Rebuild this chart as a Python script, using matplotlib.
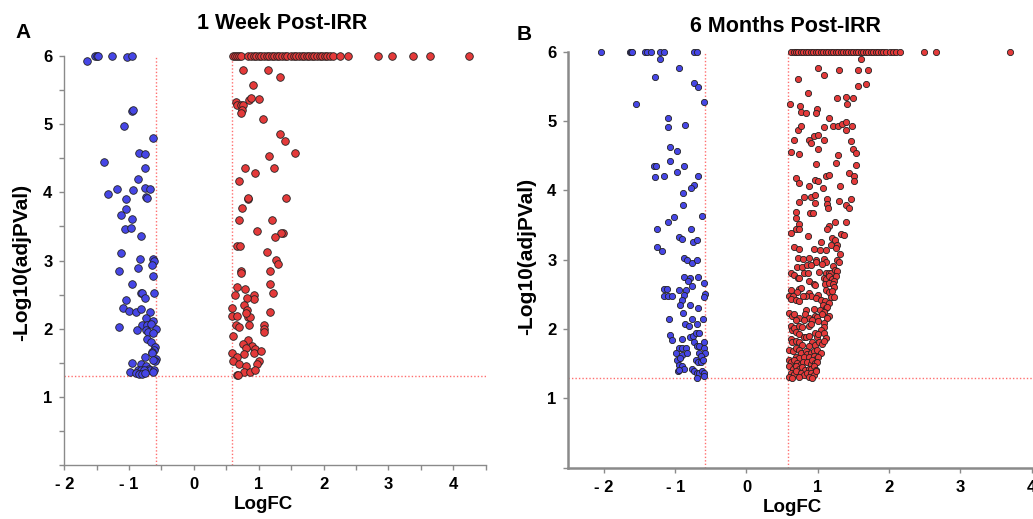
import matplotlib.pyplot as plt

plt.rcParams["font.family"] = ["Liberation Sans", "DejaVu Sans"]
plt.rcParams["font.weight"] = "bold"

# -log10 values are capped at 6 (points sitting on the top edge)
Y_CAP = 6.0
LOGFC_CUT = 0.585
PVAL_CUT = 1.3

# 1 week post-IRR
a_blue_top_x = [-1.53, -1.50, -1.48, -1.26, -0.95]
a_blue = [(-1.65, 5.93), (-1.03, 5.99),
          (-0.95, 5.20), (-0.94, 5.21), (-1.08, 4.97), (-0.63, 4.79), (-0.85, 4.58), (-0.75, 4.56),
          (-1.39, 4.45), (-0.76, 4.35), (-0.86, 4.20), (-1.19, 4.05), (-0.76, 4.06), (-0.68, 4.05),
          (-1.33, 3.98), (-0.94, 4.03), (-0.74, 3.93), (-0.73, 3.92), (-1.05, 3.90), (-1.04, 3.76),
          (-1.13, 3.67), (-0.96, 3.61), (-1.07, 3.46), (-0.97, 3.48), (-0.81, 3.36), (-1.13, 3.11),
          (-0.83, 3.02), (-0.63, 3.02), (-0.62, 2.99), (-0.65, 2.94), (-0.86, 2.89), (-1.15, 2.84),
          (-0.63, 2.77), (-0.95, 2.66), (-0.81, 2.53), (-0.80, 2.53), (-0.62, 2.53), (-0.76, 2.45),
          (-1.04, 2.42), (-1.09, 2.31), (-1.00, 2.26), (-0.89, 2.25), (-0.82, 2.29), (-0.67, 2.25),
          (-0.74, 2.16), (-0.63, 2.12), (-0.80, 2.06), (-0.73, 2.05), (-0.66, 2.07), (-1.15, 2.03),
          (-0.88, 1.98), (-0.74, 1.98), (-0.71, 1.95), (-0.59, 1.99), (-0.63, 1.93), (-0.72, 1.85),
          (-0.66, 1.80), (-0.60, 1.73), (-0.61, 1.69), (-0.64, 1.66), (-0.65, 1.64), (-0.75, 1.59),
          (-0.59, 1.55), (-0.60, 1.52), (-0.63, 1.54), (-0.96, 1.49), (-0.82, 1.48), (-0.74, 1.45),
          (-0.70, 1.41), (-0.67, 1.40), (-0.61, 1.40), (-0.99, 1.37), (-0.86, 1.40), (-0.81, 1.40),
          (-0.77, 1.40), (-0.89, 1.35), (-0.85, 1.33), (-0.80, 1.33), (-0.76, 1.35), (-0.63, 1.37)]
a_red_top_x = [0.60, 0.63, 0.66, 0.70, 0.73, 0.84, 0.88, 0.92, 0.96, 1.00, 1.04, 1.08, 1.12,
               1.16, 1.20, 1.24, 1.28, 1.32, 1.36, 1.40, 1.43, 1.50, 1.54, 1.58, 1.62, 1.66,
               1.70, 1.74, 1.78, 1.82, 1.86, 1.90, 1.94, 1.98, 2.02, 2.06, 2.10, 2.14, 2.26,
               2.38, 2.84, 3.06, 3.38, 3.64, 4.24]
a_red = [(0.76, 5.79), (1.14, 5.80), (1.33, 5.69), (0.91, 5.58), (0.65, 5.33), (0.67, 5.28),
         (0.73, 5.28), (0.76, 5.28), (0.85, 5.35), (0.88, 5.39), (1.01, 5.37), (0.74, 5.21),
         (0.72, 5.16), (1.06, 5.07), (1.33, 4.86), (1.41, 4.75), (1.56, 4.58), (1.16, 4.53),
         (0.79, 4.35), (1.24, 4.35), (0.95, 4.28), (0.69, 4.16), (0.83, 3.90), (0.84, 3.91),
         (1.42, 3.92), (0.74, 3.77), (0.69, 3.60), (1.21, 3.60), (0.98, 3.44), (1.37, 3.41),
         (1.35, 3.41), (1.25, 3.34), (0.67, 3.21), (0.71, 3.21), (1.13, 3.12), (1.27, 3.01),
         (1.29, 2.95), (0.72, 2.85), (0.72, 2.81), (1.17, 2.84), (1.17, 2.66), (0.67, 2.61),
         (0.79, 2.58), (0.64, 2.50), (0.92, 2.50), (0.92, 2.44), (0.82, 2.45), (1.22, 2.52),
         (0.78, 2.35), (0.59, 2.31), (0.58, 2.19), (0.82, 2.27), (0.84, 2.17), (0.86, 2.17),
         (0.67, 2.18), (1.18, 2.25), (0.81, 2.23), (0.65, 2.06), (0.70, 2.03), (0.85, 2.06),
         (1.08, 2.05), (1.08, 2.00), (1.08, 1.95), (0.61, 1.89), (0.84, 1.83), (0.75, 1.77),
         (0.90, 1.74), (0.95, 1.70), (0.81, 1.71), (0.58, 1.65), (0.78, 1.63), (0.92, 1.65),
         (1.03, 1.67), (0.67, 1.58), (0.60, 1.52), (0.70, 1.48), (1.00, 1.52), (0.97, 1.48),
         (0.80, 1.45), (0.77, 1.37), (0.87, 1.37), (0.94, 1.39), (0.66, 1.32), (0.68, 1.32)]

# 6 months post-IRR
b_blue_top_x = [-2.04, -1.64, -1.62, -1.60, -1.43, -1.39, -1.34, -1.21, -1.15, -0.73, -0.69]
b_blue = [(-1.22, 5.90), (-0.94, 5.76), (-1.29, 5.64), (-0.74, 5.55), (-0.68, 5.49), (-0.60, 5.27),
          (-1.55, 5.25), (-1.10, 5.05), (-1.10, 4.92), (-0.86, 4.94), (-1.07, 4.63), (-0.97, 4.57),
          (-1.07, 4.43), (-1.30, 4.35), (-1.27, 4.35), (-0.87, 4.35), (-1.28, 4.20), (-1.15, 4.21),
          (-0.98, 4.27), (-0.68, 4.21), (-0.73, 4.08), (-0.78, 4.03), (-0.89, 3.96), (-0.89, 3.79),
          (-0.62, 3.63), (-1.01, 3.62), (-1.10, 3.55), (-1.26, 3.45), (-0.78, 3.45), (-0.94, 3.33),
          (-0.91, 3.30), (-0.75, 3.25), (-0.70, 3.29), (-1.25, 3.19), (-1.19, 3.13), (-0.87, 3.02),
          (-0.84, 3.00), (-0.76, 2.95), (-0.69, 2.99), (-0.87, 2.75), (-0.79, 2.73), (-0.68, 2.75),
          (-0.82, 2.70), (-0.76, 2.62), (-0.59, 2.66), (-1.16, 2.58), (-1.12, 2.58), (-1.15, 2.48),
          (-1.10, 2.48), (-1.04, 2.48), (-0.95, 2.56), (-0.85, 2.56), (-0.87, 2.49), (-0.58, 2.51),
          (-0.60, 2.46), (-0.91, 2.42), (-0.93, 2.34), (-0.79, 2.35), (-0.68, 2.31), (-0.89, 2.23),
          (-1.09, 2.14), (-0.76, 2.14), (-0.61, 2.14), (-0.86, 2.07), (-0.80, 2.04), (-0.69, 2.07),
          (-1.07, 1.92), (-1.05, 1.84), (-0.79, 1.89), (-0.75, 1.90), (-0.71, 1.94), (-0.67, 1.94),
          (-0.73, 1.82), (-0.91, 1.86), (-0.60, 1.81), (-0.95, 1.73), (-0.91, 1.73), (-0.85, 1.73),
          (-0.70, 1.75), (-0.66, 1.76), (-0.60, 1.72), (-0.58, 1.65), (-0.99, 1.66), (-0.90, 1.63),
          (-0.83, 1.65), (-0.67, 1.65), (-0.64, 1.61), (-0.97, 1.56), (-0.93, 1.58), (-0.71, 1.55),
          (-0.68, 1.53), (-0.64, 1.52), (-0.61, 1.55), (-0.94, 1.48), (-0.91, 1.46), (-0.87, 1.43),
          (-0.96, 1.40), (-0.95, 1.41), (-0.77, 1.42), (-0.74, 1.39), (-0.70, 1.37), (-0.66, 1.37),
          (-0.62, 1.39), (-0.60, 1.36), (-0.69, 1.30), (-0.59, 1.32)]
b_red_top_x = [0.63, 0.66, 0.69, 0.72, 0.76, 0.79, 0.83, 0.86, 0.90, 0.93, 0.97, 1.00, 1.04,
               1.07, 1.11, 1.14, 1.18, 1.21, 1.25, 1.28, 1.32, 1.35, 1.39, 1.42, 1.46, 1.49,
               1.53, 1.56, 1.60, 1.63, 1.67, 1.70, 1.74, 1.77, 1.81, 1.84, 1.88, 1.91, 1.95,
               2.02, 2.06, 2.10, 2.16, 2.49, 2.66, 3.70]
b_red = [(1.60, 5.90), (1.01, 5.76), (1.30, 5.74), (1.57, 5.73), (1.70, 5.73), (1.09, 5.66),
         (0.72, 5.61), (1.67, 5.54), (1.57, 5.51), (0.86, 5.40), (1.27, 5.33), (1.39, 5.35),
         (1.49, 5.33), (1.41, 5.24), (0.61, 5.24), (0.75, 5.21), (0.76, 5.13), (0.84, 5.12),
         (0.99, 5.17), (0.97, 5.11), (1.16, 5.05), (0.72, 4.87), (0.77, 4.93), (1.09, 4.91),
         (1.21, 4.93), (1.29, 4.93), (1.34, 4.95), (1.39, 4.98), (1.48, 4.93), (1.40, 4.87),
         (0.94, 4.79), (1.01, 4.80), (0.66, 4.72), (0.88, 4.73), (0.91, 4.69), (1.09, 4.72),
         (1.46, 4.71), (0.62, 4.56), (0.73, 4.53), (1.00, 4.59), (1.50, 4.59), (1.54, 4.54),
         (1.29, 4.51), (1.25, 4.40), (0.97, 4.38), (1.53, 4.36), (1.11, 4.21), (1.16, 4.22),
         (1.44, 4.25), (1.51, 4.21), (0.70, 4.18), (0.74, 4.11), (0.96, 4.15), (1.00, 4.13),
         (0.87, 4.07), (1.51, 4.14), (1.07, 4.03), (1.31, 4.07), (0.80, 3.91), (0.90, 3.91),
         (0.96, 3.94), (1.13, 3.87), (0.74, 3.83), (0.96, 3.82), (1.13, 3.81), (1.15, 3.74),
         (1.30, 3.84), (1.39, 3.79), (1.44, 3.74), (1.46, 3.87), (0.70, 3.69), (0.89, 3.67),
         (0.93, 3.68), (0.70, 3.60), (0.73, 3.52), (0.69, 3.45), (0.74, 3.45), (0.63, 3.39),
         (1.16, 3.48), (1.13, 3.45), (1.24, 3.54), (1.40, 3.54), (1.32, 3.37), (1.37, 3.36),
         (0.86, 3.34), (1.20, 3.31), (1.24, 3.28), (1.04, 3.25), (0.66, 3.19), (0.73, 3.16),
         (1.18, 3.21), (1.27, 3.21), (1.25, 3.17), (0.94, 3.15), (1.03, 3.14), (1.11, 3.14),
         (1.31, 3.08), (0.72, 3.02), (0.79, 3.01), (0.87, 3.03), (0.98, 3.00), (0.97, 2.97),
         (1.09, 3.01), (1.12, 2.96), (1.27, 3.00), (1.30, 2.97), (0.71, 2.90), (0.78, 2.89),
         (0.85, 2.93), (0.91, 2.93), (1.06, 2.94), (1.21, 2.91), (0.63, 2.81), (0.66, 2.78),
         (0.81, 2.81), (0.86, 2.81), (1.02, 2.82), (1.11, 2.81), (1.16, 2.81), (1.18, 2.81),
         (1.24, 2.85), (1.27, 2.84), (0.72, 2.73), (0.74, 2.74), (0.87, 2.69), (1.09, 2.74),
         (1.11, 2.72), (1.16, 2.77), (1.20, 2.72), (1.25, 2.76), (1.23, 2.69), (0.94, 2.65),
         (0.96, 2.64), (1.10, 2.65), (1.16, 2.67), (1.21, 2.65), (1.23, 2.60), (0.73, 2.58),
         (0.77, 2.59), (0.71, 2.54), (0.63, 2.57), (1.12, 2.57), (1.16, 2.54), (1.20, 2.55),
         (0.87, 2.52), (0.91, 2.48), (0.59, 2.48), (0.65, 2.48), (0.62, 2.43), (0.84, 2.48),
         (0.79, 2.47), (1.01, 2.49), (0.97, 2.45), (1.18, 2.46), (1.23, 2.46), (0.70, 2.42),
         (0.74, 2.40), (1.05, 2.42), (1.10, 2.40), (1.16, 2.38), (1.08, 2.35), (1.11, 2.30),
         (1.13, 2.32), (1.03, 2.27), (1.09, 2.24), (0.83, 2.28), (0.82, 2.22), (0.94, 2.29),
         (0.60, 2.23), (0.64, 2.19), (0.66, 2.22), (0.73, 2.16), (0.70, 2.13), (0.96, 2.19),
         (0.99, 2.18), (1.06, 2.21), (1.16, 2.19), (1.13, 2.16), (0.87, 2.16), (0.92, 2.13),
         (1.01, 2.11), (1.09, 2.08), (0.81, 2.13), (0.62, 2.04), (0.64, 1.99), (0.66, 2.01),
         (0.73, 2.05), (0.78, 2.03), (0.87, 2.04), (0.91, 2.07), (1.09, 2.03), (1.05, 1.99),
         (0.70, 1.96), (0.74, 1.93), (0.80, 1.89), (0.84, 1.89), (0.87, 1.90), (0.96, 1.95),
         (0.99, 1.89), (1.01, 1.93), (1.09, 1.94), (1.11, 1.87), (0.62, 1.85), (0.64, 1.81),
         (0.69, 1.83), (0.74, 1.82), (0.78, 1.77), (0.92, 1.82), (0.96, 1.77), (1.02, 1.81),
         (1.06, 1.79), (1.09, 1.83), (0.87, 1.75), (0.59, 1.70), (0.65, 1.68), (0.69, 1.72),
         (0.73, 1.70), (0.77, 1.65), (0.83, 1.68), (0.85, 1.64), (0.90, 1.66), (0.94, 1.68),
         (0.99, 1.70), (1.04, 1.65), (0.70, 1.60), (0.74, 1.58), (0.80, 1.60), (0.87, 1.59),
         (0.94, 1.61), (0.97, 1.57), (1.01, 1.59), (0.59, 1.56), (0.63, 1.52), (0.66, 1.55),
         (0.71, 1.51), (0.76, 1.50), (0.79, 1.53), (0.85, 1.52), (0.90, 1.50), (0.92, 1.55),
         (0.96, 1.51), (0.99, 1.53), (0.60, 1.46), (0.65, 1.43), (0.69, 1.46), (0.73, 1.42),
         (0.78, 1.45), (0.82, 1.41), (0.87, 1.43), (0.91, 1.42), (0.94, 1.46), (0.97, 1.41),
         (0.62, 1.37), (0.66, 1.35), (0.70, 1.39), (0.76, 1.36), (0.80, 1.34), (0.85, 1.37),
         (0.90, 1.36), (0.94, 1.34), (0.98, 1.39), (0.60, 1.31), (0.64, 1.30), (0.74, 1.31),
         (0.87, 1.31), (0.92, 1.30)]

BLUE = "#4646e6"
RED = "#e43a3a"
EDGE = "#222222"
CUT_COLOR = "#ff6f6f"
SPINE = "#8a8a8a"


def volcano(ax, blue, blue_top, red, red_top, size, xlim):
    for points, top, color in [(blue, blue_top, BLUE), (red, red_top, RED)]:
        x = [p[0] for p in points] + top
        y = [p[1] for p in points] + [Y_CAP] * len(top)
        ax.scatter(x, y, s=size, c=color, edgecolors=EDGE, linewidths=0.6,
                   clip_on=False, zorder=3)
    ax.axvline(-LOGFC_CUT, color=CUT_COLOR, ls=(0, (1, 1.5)), lw=1, zorder=2)
    ax.axvline(LOGFC_CUT, color=CUT_COLOR, ls=(0, (1, 1.5)), lw=1, zorder=2)
    ax.axhline(PVAL_CUT, color=CUT_COLOR, ls=(0, (1, 1.5)), lw=1, zorder=2)
    ax.set_xlim(*xlim)
    ax.set_ylim(0, Y_CAP)
    for side in ["top", "right"]:
        ax.spines[side].set_visible(False)
    for side in ["left", "bottom"]:
        ax.spines[side].set_color(SPINE)
    ax.tick_params(colors=SPINE, labelcolor="black", length=3.5, width=1,
                   labelsize=12, pad=5)


def minus_label(v):
    if v < 0:
        return "- " + str(abs(v))
    return str(v)


fig = plt.figure(figsize=(10.33, 5.19), dpi=100)

ax_a = fig.add_axes([0.0622, 0.1040, 0.4079, 0.7881])
volcano(ax_a, a_blue, a_blue_top_x, a_red, a_red_top_x, 30, (-2, 4.5))
for side in ["left", "bottom"]:
    ax_a.spines[side].set_linewidth(1.0)
xt = [i / 2 for i in range(-4, 10)]
ax_a.set_xticks(xt)
ax_a.set_xticklabels([minus_label(int(v)) if v == int(v) else "" for v in xt])
yt = [i / 2 for i in range(0, 13)]
ax_a.set_yticks(yt)
ax_a.set_yticklabels([str(int(v)) if v == int(v) and v > 0 else "" for v in yt])

ax_b = fig.add_axes([0.5501, 0.0988, 0.4486, 0.8016])
volcano(ax_b, b_blue, b_blue_top_x, b_red, b_red_top_x, 20, (-2.5, 4))
for side in ["left", "bottom"]:
    ax_b.spines[side].set_linewidth(1.8)
xt = list(range(-2, 5))
ax_b.set_xticks(xt)
ax_b.set_xticklabels([minus_label(v) for v in xt])
ax_b.set_yticks(list(range(0, 7)))
ax_b.set_yticklabels([""] + [str(v) for v in range(1, 7)])

for ax in [ax_a, ax_b]:
    for lab in ax.get_xticklabels() + ax.get_yticklabels():
        lab.set_fontweight("bold")

fig.text(0.0227, 0.9374, "A", fontsize=15, fontweight="bold", ha="center", va="center")
fig.text(0.5073, 0.9326, "B", fontsize=15, fontweight="bold", ha="center", va="center")
fig.text(0.2735, 0.9538, "1 Week Post-IRR", fontsize=15.5, fontweight="bold",
         ha="center", va="center")
fig.text(0.7604, 0.9489, "6 Months Post-IRR", fontsize=15.5, fontweight="bold",
         ha="center", va="center")
fig.text(0.2551, 0.027, "LogFC", fontsize=13.5, fontweight="bold", ha="center", va="center")
fig.text(0.7667, 0.022, "LogFC", fontsize=13.5, fontweight="bold", ha="center", va="center")
fig.text(0.021, 0.495, "-Log10(adjPVal)", fontsize=15, fontweight="bold", rotation=90,
         ha="center", va="center")
fig.text(0.510, 0.505, "-Log10(adjPVal)", fontsize=15, fontweight="bold", rotation=90,
         ha="center", va="center")

fig.savefig("out.png", dpi=100)
